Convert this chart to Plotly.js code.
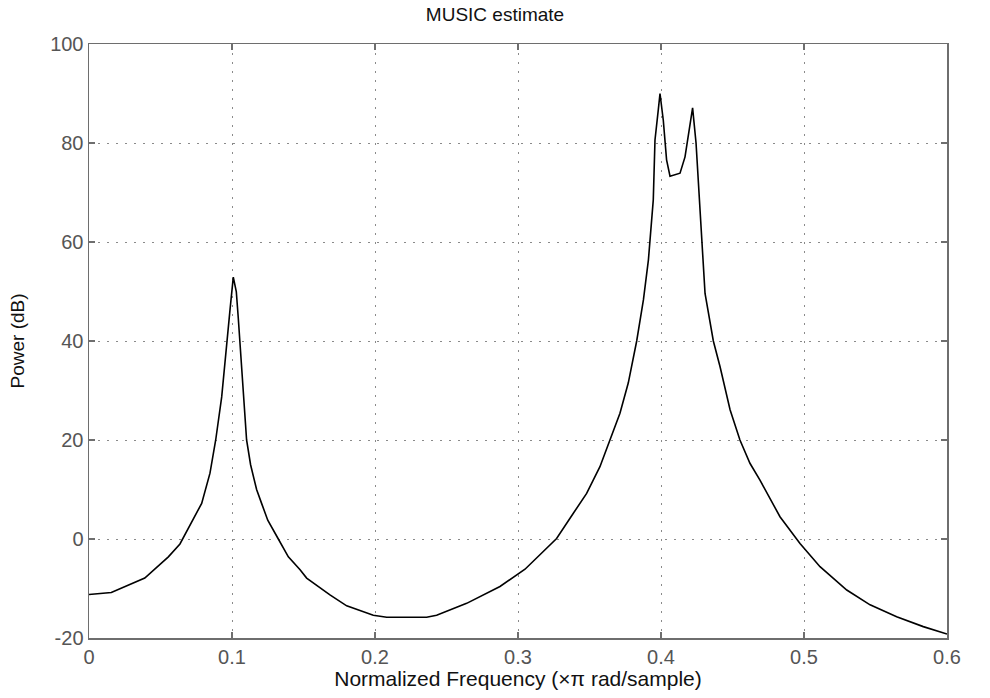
<!DOCTYPE html>
<html>
<head>
<meta charset="utf-8">
<script src="https://cdn.plot.ly/plotly-3.0.1.min.js"></script>
<style>html,body{margin:0;padding:0;background:#fff;}#chart{width:990px;height:698px;}</style>
</head>
<body>
<div id="chart"></div>
<script>
// Normalized frequency (x pi rad/sample)
var freq = [
  0.0000, 0.0156, 0.0390, 0.0555, 0.0636, 0.0741, 0.0788, 0.0846, 0.0886, 0.0928,
  0.0963, 0.0986, 0.1009, 0.1030, 0.1044, 0.1056, 0.1067, 0.1079, 0.1090, 0.1102,
  0.1130, 0.1172, 0.1207, 0.1250, 0.1320, 0.1394, 0.1476, 0.1522, 0.1685, 0.1802,
  0.1988, 0.2082, 0.2361, 0.2431, 0.2641, 0.2874, 0.3049, 0.3270, 0.3387, 0.3480,
  0.3573, 0.3643, 0.3713, 0.3771, 0.3830, 0.3877, 0.3912, 0.3946, 0.3958, 0.3981,
  0.3993, 0.4016, 0.4039, 0.4063, 0.4133, 0.4168, 0.4203, 0.4221, 0.4245, 0.4265,
  0.4280, 0.4293, 0.4308, 0.4366, 0.4413, 0.4483, 0.4552, 0.4622, 0.4692, 0.4832,
  0.4972, 0.5112, 0.5299, 0.5462, 0.5648, 0.5834, 0.6000
];
// Power (dB)
var power = [
  -11.2, -10.8, -7.9, -3.6, -1.0, 4.5, 7.2, 13.3, 20.0, 28.7,
  40.0, 46.3, 52.9, 50.0, 44.6, 39.6, 34.0, 29.4, 24.0, 20.0,
  15.0, 10.0, 7.2, 3.8, 0.2, -3.6, -6.2, -7.9, -11.3, -13.5,
  -15.4, -15.8, -15.8, -15.4, -13.0, -9.6, -6.1, 0.1, 5.2, 9.2,
  14.6, 20.0, 25.4, 31.5, 40.0, 48.3, 56.4, 68.5, 80.6, 86.7,
  90.0, 84.6, 76.6, 73.3, 73.9, 77.2, 83.6, 87.1, 80.0, 70.0,
  62.0, 56.4, 49.6, 40.0, 34.8, 26.1, 20.0, 15.3, 11.9, 4.5,
  -0.9, -5.6, -10.3, -13.3, -15.7, -17.7, -19.2
];
var xTicks = [0, 0.1, 0.2, 0.3, 0.4, 0.5, 0.6];
var xTickText = ["0", "0.1", "0.2", "0.3", "0.4", "0.5", "0.6"];
var yTicks = [-20, 0, 20, 40, 60, 80, 100];
var yTickText = ["-20", "0", "20", "40", "60", "80", "100"];

var fontFam = "Liberation Sans, Arial, Helvetica, sans-serif";
var axisCommon = {
  showline: true, linecolor: "#6e6e6e", linewidth: 1.5, mirror: "ticks",
  ticks: "inside", ticklen: 6, tickcolor: "#6e6e6e", tickwidth: 1.5,
  showgrid: true, gridcolor: "#8a8a8a", gridwidth: 1, griddash: "2px,7px",
  zeroline: false, tickfont: {family: fontFam, size: 20, color: "#555555"},
  automargin: false, fixedrange: true
};

var trace = {
  x: freq, y: power, type: "scatter", mode: "lines",
  line: {color: "#000000", width: 1.6}, hoverinfo: "skip"
};

var layout = {
  width: 990, height: 698,
  margin: {l: 89, r: 43, t: 44, b: 60, pad: 0},
  paper_bgcolor: "#ffffff", plot_bgcolor: "#ffffff",
  showlegend: false,
  font: {family: fontFam, color: "#000"},
  title: {text: "MUSIC estimate", font: {family: fontFam, size: 19, color: "#111"},
          x: 0.5, xref: "container", xanchor: "center", y: 1 - 14/698, yref: "container", yanchor: "middle"},
  xaxis: Object.assign({}, axisCommon, {
    range: [0, 0.6], tickmode: "array", tickvals: xTicks, ticktext: xTickText,
    title: {text: "Normalized Frequency (×π rad/sample)", font: {family: fontFam, size: 21, color: "#111"}, standoff: 4}
  }),
  yaxis: Object.assign({}, axisCommon, {
    range: [-20, 100], tickmode: "array", tickvals: yTicks, ticktext: yTickText,
    title: {text: "Power (dB)", font: {family: fontFam, size: 19, color: "#111"}, standoff: 20}
  })
};

Plotly.newPlot("chart", [trace], layout, {displayModeBar: false, staticPlot: true});
</script>
</body>
</html>
